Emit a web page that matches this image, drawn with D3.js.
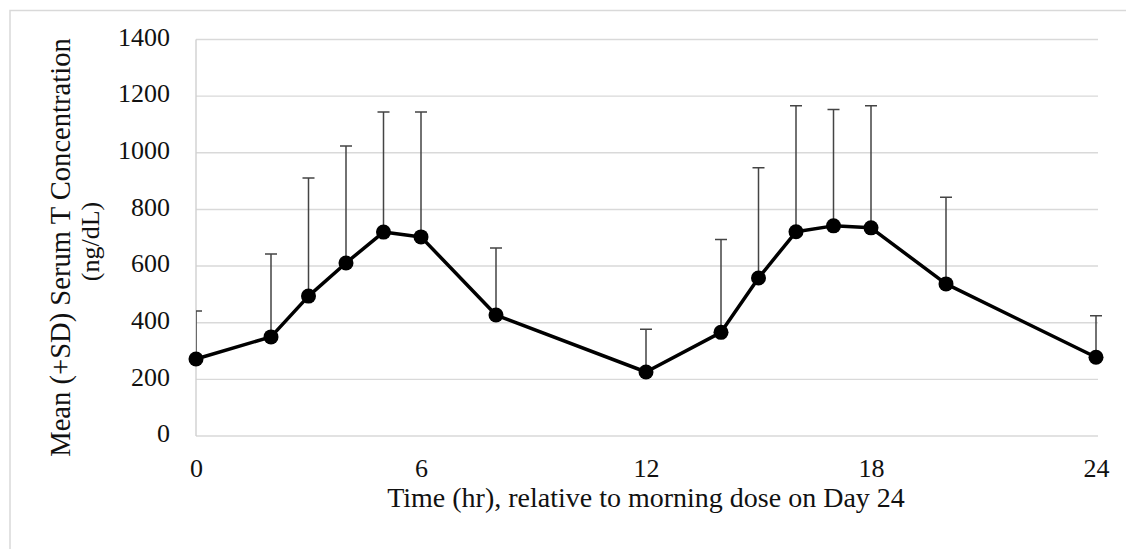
<!DOCTYPE html>
<html>
<head>
<meta charset="utf-8">
<script src="https://cdn.jsdelivr.net/npm/d3@7"></script>
<style>
  html, body { margin: 0; padding: 0; background: #fff; }
  svg { display: block; }
  text { font-family: "Liberation Serif", "Times New Roman", serif; fill: #111; }
</style>
</head>
<body>
<svg id="chart" width="1126" height="549"></svg>
<script>
// Sampling times (hours after the morning dose on Day 24)
const hours = [0, 2, 3, 4, 5, 6, 8, 12, 14, 15, 16, 17, 18, 20, 24];
// Mean serum testosterone (ng/dL)
const meanT = [272, 350, 494, 611, 720, 703, 427, 226, 366, 558, 721, 742, 735, 537, 278];
// Mean + SD (upper end of each error bar)
const meanPlusSD = [441, 643, 911, 1024, 1144, 1144, 664, 377, 694, 947, 1166, 1153, 1166, 843, 425];
// Axis ticks
const xTicks = [0, 6, 12, 18, 24];
const yTicks = [0, 200, 400, 600, 800, 1000, 1200, 1400];

const svg = d3.select("#chart");
const plot = { left: 196, right: 1096, top: 39.5, bottom: 436 };

const x = d3.scaleLinear().domain([0, 24]).range([plot.left, plot.right]);
const y = d3.scaleLinear().domain([0, 1400]).range([plot.bottom, plot.top]);

// Outer frame (only the top and left edges fall inside the view)
svg.append("path")
  .attr("d", `M10,549 V10.5 H1126`)
  .attr("fill", "none")
  .attr("stroke", "#d9d9d9")
  .attr("stroke-width", 1.5);

// Horizontal gridlines
svg.append("g")
  .selectAll("line")
  .data(yTicks)
  .join("line")
  .attr("x1", plot.left)
  .attr("x2", plot.right + 2)
  .attr("y1", d => y(d))
  .attr("y2", d => y(d))
  .attr("stroke", "#d9d9d9")
  .attr("stroke-width", 1.4);

// Y axis (labels only, with a plain vertical line)
const yAxis = svg.append("g")
  .attr("transform", `translate(${plot.left},0)`)
  .call(d3.axisLeft(y).tickValues(yTicks).tickFormat(d3.format("d")).tickSize(0).tickPadding(26));
yAxis.select(".domain").remove();
yAxis.selectAll("text").attr("font-size", 26).attr("dy", "0.22em");

svg.append("line")
  .attr("x1", plot.left).attr("x2", plot.left)
  .attr("y1", plot.top).attr("y2", plot.bottom)
  .attr("stroke", "#d0d0d0")
  .attr("stroke-width", 1.4);

// X axis
const xAxis = svg.append("g")
  .attr("transform", `translate(0,${plot.bottom})`)
  .call(d3.axisBottom(x).tickValues(xTicks).tickFormat(d3.format("d")).tickSize(0).tickPadding(23));
xAxis.select(".domain").remove();
xAxis.selectAll("text").attr("font-size", 26);

// Axis titles
svg.append("text")
  .attr("transform", `translate(70,247.5) rotate(-90)`)
  .attr("text-anchor", "middle")
  .attr("font-size", 28.6)
  .text("Mean (+SD) Serum T Concentration");
svg.append("text")
  .attr("transform", `translate(99,241.5) rotate(-90)`)
  .attr("text-anchor", "middle")
  .attr("font-size", 26)
  .text("(ng/dL)");

svg.append("text")
  .attr("x", (plot.left + plot.right) / 2)
  .attr("y", 507)
  .attr("text-anchor", "middle")
  .attr("font-size", 28)
  .text("Time (hr), relative to morning dose on Day 24");

// Error bars, clipped at the plot's left edge
svg.append("clipPath").attr("id", "plotClip")
  .append("rect")
  .attr("x", plot.left).attr("y", 0)
  .attr("width", 1126 - plot.left).attr("height", 549);

const points = hours.map((h, i) => ({ h, m: meanT[i], up: meanPlusSD[i] }));
const capHalf = 6;

const err = svg.append("g")
  .attr("clip-path", "url(#plotClip)")
  .attr("stroke", "#444")
  .attr("stroke-width", 1.5)
  .attr("fill", "none");
err.selectAll("path")
  .data(points)
  .join("path")
  .attr("d", d => `M${x(d.h)},${y(d.m)} V${y(d.up)} M${x(d.h) - capHalf},${y(d.up)} H${x(d.h) + capHalf}`);

// Mean profile
svg.append("path")
  .datum(points)
  .attr("fill", "none")
  .attr("stroke", "#000")
  .attr("stroke-width", 3.5)
  .attr("stroke-linejoin", "round")
  .attr("d", d3.line().x(d => x(d.h)).y(d => y(d.m)));

svg.append("g")
  .selectAll("circle")
  .data(points)
  .join("circle")
  .attr("cx", d => x(d.h))
  .attr("cy", d => y(d.m))
  .attr("r", 7.5)
  .attr("fill", "#000");
</script>
</body>
</html>
